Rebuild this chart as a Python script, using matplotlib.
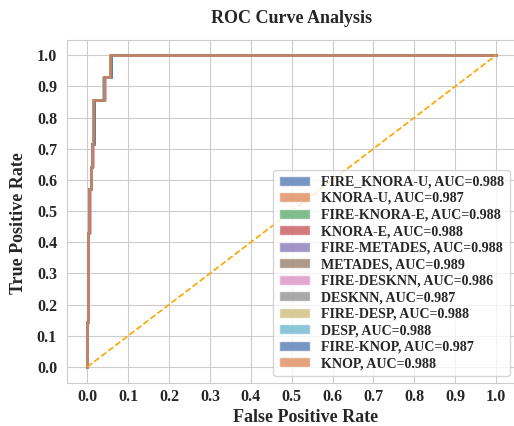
import matplotlib
matplotlib.use("Agg")
import matplotlib.pyplot as plt
from matplotlib.patches import Patch
import seaborn as sns

# --- data ---
models = ["FIRE_KNORA-U", "KNORA-U", "FIRE-KNORA-E", "KNORA-E", "FIRE-METADES", "METADES",
          "FIRE-DESKNN", "DESKNN", "FIRE-DESP", "DESP", "FIRE-KNOP", "KNOP"]
auc = ["0.988", "0.987", "0.988", "0.988", "0.988", "0.989",
       "0.986", "0.987", "0.988", "0.988", "0.987", "0.988"]

# TPR levels reached at each step (14 positives)
tpr_levels = [0.143, 0.429, 0.571, 0.643, 0.714, 0.857, 0.929, 1.0]

# FPR at which each model reaches the corresponding TPR level
fpr_steps = {
    "FIRE_KNORA-U": [0.000, 0.002, 0.005, 0.009, 0.012, 0.016, 0.041, 0.058],
    "KNORA-U":      [0.000, 0.001, 0.004, 0.008, 0.011, 0.015, 0.040, 0.056],
    "FIRE-KNORA-E": [0.000, 0.002, 0.005, 0.009, 0.012, 0.016, 0.042, 0.059],
    "KNORA-E":      [0.000, 0.001, 0.004, 0.008, 0.011, 0.015, 0.040, 0.056],
    "FIRE-METADES": [0.000, 0.001, 0.005, 0.009, 0.012, 0.016, 0.041, 0.057],
    "METADES":      [0.000, 0.001, 0.004, 0.008, 0.011, 0.015, 0.040, 0.056],
    "FIRE-DESKNN":  [0.000, 0.002, 0.006, 0.010, 0.013, 0.017, 0.044, 0.058],
    "DESKNN":       [0.000, 0.001, 0.004, 0.008, 0.011, 0.015, 0.040, 0.057],
    "FIRE-DESP":    [0.000, 0.001, 0.004, 0.008, 0.011, 0.015, 0.040, 0.056],
    "DESP":         [0.000, 0.001, 0.004, 0.008, 0.012, 0.016, 0.039, 0.057],
    "FIRE-KNOP":    [0.000, 0.002, 0.005, 0.009, 0.012, 0.016, 0.041, 0.059],
    "KNOP":         [0.000, 0.001, 0.004, 0.008, 0.011, 0.015, 0.040, 0.056],
}

sns.set_style("whitegrid")
plt.rcParams['font.family'] = ['Liberation Serif', 'DejaVu Serif']
plt.rcParams['font.weight'] = 'bold'

colors = sns.color_palette("deep", 10)
fig = plt.figure(figsize=(5.14, 4.26), dpi=100)
ax = fig.add_axes([0.130, 0.102, 0.875, 0.805])

handles = []
for i, name in enumerate(models):
	c = colors[i % 10]
	x = [0.0] + fpr_steps[name] + [1.0]
	y = [0.0] + tpr_levels + [1.0]
	ax.step(x, y, where='post', color=c, lw=2, alpha=0.8)
	handles.append(Patch(facecolor=c, alpha=0.75, label=f"{name}, AUC={auc[i]}"))

ax.plot([0, 1], [0, 1], linestyle='--', color='orange', lw=1.2)

ax.set_xlim(-0.05, 1.05)
ax.set_ylim(-0.05, 1.05)
ticks = [i / 10 for i in range(11)]
ax.set_xticks(ticks)
ax.set_yticks(ticks)
ax.set_xticklabels([f"{t:.1f}" for t in ticks], fontsize=11.5, fontweight='bold')
ax.set_yticklabels([f"{t:.1f}" for t in ticks], fontsize=11.5, fontweight='bold')
ax.tick_params(axis='x', length=0, pad=5)
ax.tick_params(axis='y', length=0, pad=7)
ax.set_xlabel("False Positive Rate", fontsize=13, fontweight='bold')
ax.set_ylabel("True Positive Rate", fontsize=13, fontweight='bold')
ax.xaxis.set_label_coords(0.531, -0.078)
ax.yaxis.set_label_coords(-0.088, 0.465)
ax.set_title("ROC Curve Analysis", fontsize=13, fontweight='bold', pad=12)

ax.legend(handles=handles, loc='lower right', bbox_to_anchor=(0.985, 0.02),
          prop={'size': 10.1, 'weight': 'bold'},
          handlelength=2.2, handleheight=0.7, labelspacing=0.25, frameon=True,
          borderaxespad=0.0)

fig.savefig("out.png", dpi=100)
